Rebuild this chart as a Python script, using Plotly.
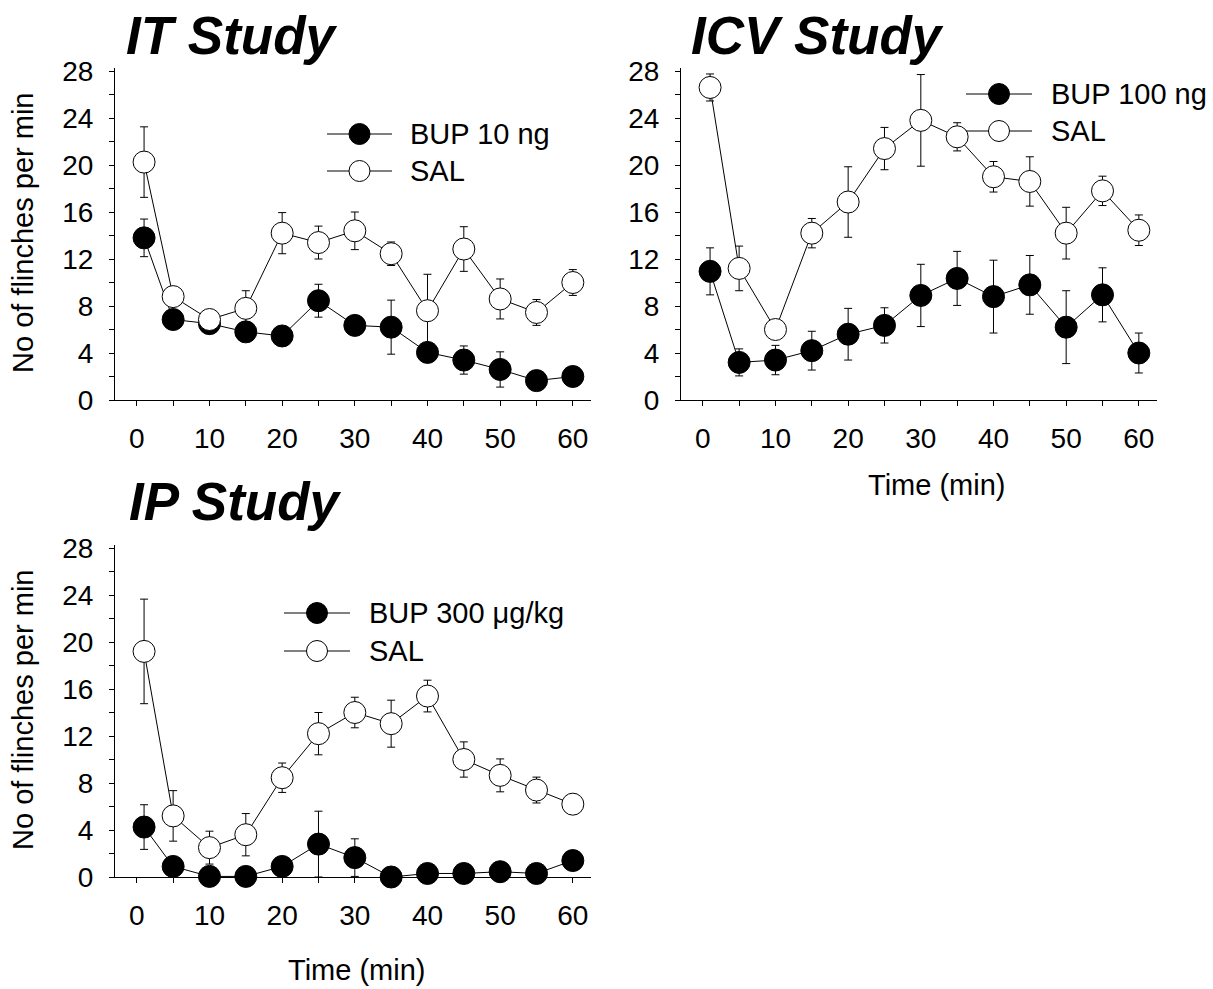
import plotly.graph_objects as go

# ---------------- data ----------------
time = [1, 5, 10, 15, 20, 25, 30, 35, 40, 45, 50, 55, 60]

it_bup = [13.8, 6.85, 6.5, 5.8, 5.45, 8.45, 6.35, 6.2, 4.05, 3.4, 2.6, 1.65, 2.0]
it_bup_err = [1.6, 0.4, 0.4, 0.5, 0.4, 1.4, 0.5, 2.3, 0.5, 1.2, 1.5, 0.4, 0.4]
it_sal = [20.25, 8.8, 6.85, 7.8, 14.2, 13.4, 14.4, 12.45, 7.6, 12.85, 8.6, 7.45, 10.0]
it_sal_err = [3.0, 0.5, 0.3, 1.5, 1.75, 1.4, 1.6, 1.0, 3.1, 1.9, 1.7, 1.1, 1.1]

icv_bup = [10.95, 3.2, 3.4, 4.2, 5.6, 6.35, 8.9, 10.35, 8.8, 9.8, 6.2, 8.95, 4.0]
icv_bup_err = [2.0, 1.15, 1.25, 1.65, 2.2, 1.5, 2.65, 2.3, 3.1, 2.5, 3.1, 2.3, 1.7]
icv_sal = [26.6, 11.2, 6.0, 14.2, 16.85, 21.4, 23.8, 22.4, 19.0, 18.6, 14.2, 17.8, 14.45]
icv_sal_err = [1.15, 1.9, 0.5, 1.25, 3.0, 1.8, 3.9, 1.2, 1.3, 2.1, 2.2, 1.25, 1.3]

ip_bup = [4.25, 0.9, 0.05, 0.05, 0.9, 2.8, 1.65, 0.0, 0.3, 0.3, 0.45, 0.3, 1.4]
ip_bup_err = [1.9, 0.3, 0.1, 0.1, 0.3, 2.8, 1.6, 0.1, 0.1, 0.1, 0.1, 0.1, 0.3]
ip_sal = [19.2, 5.2, 2.5, 3.6, 8.45, 12.2, 14.0, 13.05, 15.4, 10.0, 8.65, 7.4, 6.2]
ip_sal_err = [4.45, 2.15, 1.4, 1.8, 1.25, 1.8, 1.3, 2.0, 1.35, 1.5, 1.4, 1.1, 0.3]

panel_titles = ["IT Study", "ICV Study", "IP Study"]
bup_labels = ["BUP 10 ng", "BUP 100 ng", "BUP 300 \u03bcg/kg"]
sal_label = "SAL"
y_title = "No of flinches per min"
x_title = "Time (min)"
y_ticks = [0, 4, 8, 12, 16, 20, 24, 28]
x_ticks = [0, 10, 20, 30, 40, 50, 60]

# ---------------- layout constants ----------------
W, H = 1213, 989
OX, OY = 0, 0           # page body margin is removed below
FONT = "Liberation Sans, Arial, sans-serif"
TICK_SIZE = 28
LAB_SIZE = 29
LEG_SIZE = 29
TITLE_SIZE = 53
MSIZE = 22


def px_x(p):
    # p: window pixel x -> paper fraction
    return (p - OX) / W


def px_y(p):
    # p: window pixel y -> paper fraction
    return 1 - (p - OY) / H


# panel pixel boxes in window coordinates: (left, right, top, bottom)
panels = {
    "IT": (115, 591, 67.5, 400),
    "ICV": (681, 1157, 67.5, 400),
    "IP": (115, 591, 544.5, 877),
}

fig = go.Figure()

series = [
    ("IT", "x", "y", it_bup, it_bup_err, it_sal, it_sal_err),
    ("ICV", "x2", "y2", icv_bup, icv_bup_err, icv_sal, icv_sal_err),
    ("IP", "x3", "y3", ip_bup, ip_bup_err, ip_sal, ip_sal_err),
]

for name, xa, ya, bup, bup_err, sal, sal_err in series:
    for vals, errs, fill in ((bup, bup_err, "black"), (sal, sal_err, "white")):
        fig.add_trace(go.Scatter(
            x=time, y=vals, xaxis=xa, yaxis=ya, mode="lines+markers",
            line=dict(color="black", width=1),
            marker=dict(size=MSIZE, color=fill, line=dict(color="black", width=1)),
            error_y=dict(type="data", array=errs, visible=True, color="black",
                         thickness=1, width=4),
            cliponaxis=False, showlegend=False, hoverinfo="skip",
        ))

axis_common = dict(
    showline=True, linecolor="black", linewidth=1, showgrid=False, zeroline=False,
    ticks="outside", tickcolor="black", tickwidth=1, automargin=False,
    tickfont=dict(family=FONT, size=TICK_SIZE, color="black"),
)

layout_axes = {}
for i, key in enumerate(["IT", "ICV", "IP"]):
    l, r, t, b = panels[key]
    sx = "" if i == 0 else str(i + 1)
    layout_axes["xaxis" + sx] = dict(
        axis_common, domain=[px_x(l), px_x(r)], range=[-3, 62.5],
        anchor="y" + sx, tickvals=x_ticks, ticklen=5,
        minor=dict(tickvals=[5, 15, 25, 35, 45, 55], ticks="outside", ticklen=5,
                   tickcolor="black", tickwidth=1),
        ticklabelstandoff=8,
    )
    layout_axes["yaxis" + sx] = dict(
        axis_common, domain=[px_y(b), px_y(t)], range=[0, 28.3],
        anchor="x" + sx, tickvals=y_ticks, ticklen=5,
        minor=dict(tickvals=[2, 6, 10, 14, 18, 22, 26], ticks="outside", ticklen=5,
                   tickcolor="black", tickwidth=1),
        ticklabelstandoff=10,
    )

# overlay pixel axis (window coordinates) for the legend samples
layout_axes["xaxis4"] = dict(domain=[0, 1], range=[OX, OX + W], visible=False,
                             anchor="y4", fixedrange=True, automargin=False)
layout_axes["yaxis4"] = dict(domain=[0, 1], range=[OY + H, OY], visible=False,
                             anchor="x4", fixedrange=True, automargin=False)

# legend: (line x0, line x1, row1 y, row2 y, text x)
legend_pos = {
    "IT": (327, 392, 134, 171, 408),
    "ICV": (966, 1032, 94, 131, 1049),
    "IP": (284, 350, 613, 651, 367),
}

annotations = []
for key, lab in zip(["IT", "ICV", "IP"], bup_labels):
    x0, x1, r1, r2, tx = legend_pos[key]
    for ry, fill, text in ((r1, "black", lab), (r2, "white", sal_label)):
        fig.add_trace(go.Scatter(
            x=[x0, x1], y=[ry, ry], xaxis="x4", yaxis="y4", mode="lines",
            line=dict(color="black", width=1), showlegend=False, hoverinfo="skip",
            cliponaxis=False))
        fig.add_trace(go.Scatter(
            x=[(x0 + x1) / 2], y=[ry], xaxis="x4", yaxis="y4", mode="markers",
            marker=dict(size=MSIZE - 1, color=fill, line=dict(color="black", width=1)),
            showlegend=False, hoverinfo="skip", cliponaxis=False))
        annotations.append(dict(
            x=px_x(tx), y=px_y(ry), xref="paper", yref="paper", text=text,
            showarrow=False, xanchor="left", yanchor="middle",
            font=dict(family=FONT, size=LEG_SIZE, color="black")))

# panel titles
title_pos = [(124, 35), (689, 35), (127, 502)]
for text, (tx, ty) in zip(panel_titles, title_pos):
    annotations.append(dict(
        x=px_x(tx), y=px_y(ty), xref="paper", yref="paper", text=text,
        showarrow=False, xanchor="left", yanchor="middle",
        font=dict(family=FONT, size=TITLE_SIZE, color="black", weight="bold",
                  style="italic")))

# y titles
for cy in (233, 710):
    annotations.append(dict(
        x=px_x(23), y=px_y(cy), xref="paper", yref="paper", text=y_title,
        showarrow=False, textangle=-90, xanchor="center", yanchor="middle",
        font=dict(family=FONT, size=LAB_SIZE, color="black")))

# x titles
for cx, cy in ((936, 485), (356, 970)):
    annotations.append(dict(
        x=px_x(cx), y=px_y(cy), xref="paper", yref="paper", text=x_title,
        showarrow=False, xanchor="center", yanchor="middle",
        font=dict(family=FONT, size=LAB_SIZE, color="black")))

fig.update_layout(
    width=W, height=H,
    margin=dict(l=0, r=0, t=0, b=0, pad=0, autoexpand=False),
    paper_bgcolor="white", plot_bgcolor="rgba(0,0,0,0)",
    showlegend=False, annotations=annotations,
    **layout_axes,
)

fig.write_html(
    "out.html",
    config={"displayModeBar": False, "staticPlot": True},
    post_script="document.body.style.margin='0';document.body.style.overflow='hidden';",
)
